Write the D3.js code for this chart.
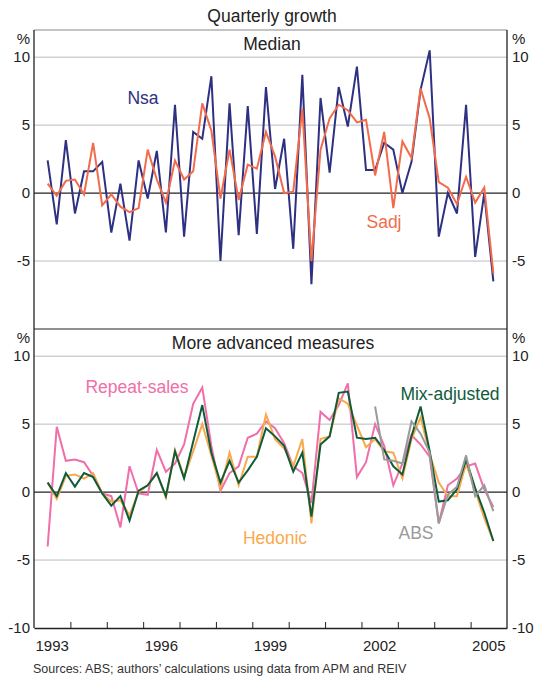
<!DOCTYPE html>
<html>
<head>
<meta charset="utf-8">
<script src="https://cdn.jsdelivr.net/npm/d3@7"></script>
<style>
  body { margin: 0; background: #fff; }
  svg text { font-family: "Liberation Sans", Arial, sans-serif; fill: #222; }
</style>
</head>
<body>
<div id="chart"></div>
<script>
// Quarterly house price growth, 1993Q2 - 2005Q3 (%)

// quarter labels (x categories)
const QUARTERS = [];
for (let y = 1993; y <= 2005; y++) {
  for (let q = 1; q <= 4; q++) {
    if (y === 1993 && q === 1) continue;
    if (y === 2005 && q === 4) continue;
    QUARTERS.push(y + "Q" + q);
  }
}

const nsa = [
  2.4, -2.3, 3.9, -1.5, 1.6, 1.6, 2.3, -2.9, 0.7, -3.5,
  2.4, -0.4, 3.1, -2.9, 6.5, -3.2, 4.5, 4.0, 8.6, -5.0,
  6.6, -3.1, 6.4, -3.0, 7.8, 0.3, 4.0, -4.1, 8.7, -6.7,
  7.0, 1.5, 7.8, 4.9, 9.3, 1.7, 1.7, 3.7, 3.2, 0.0,
  2.3, 7.6, 10.5, -3.2, 0.0, -1.5, 6.5, -4.7, 0.0, -6.5
];

const sadj = [
  0.7, -0.2, 0.9, 1.0, -0.1, 3.7, -0.9, -0.1, -1.0, -1.4,
  -1.1, 3.2, 1.0, -0.7, 2.4, 1.0, 1.6, 6.6, 4.6, -0.4,
  3.2, -0.5, 2.1, 1.8, 4.5, 2.7, 0.0, 0.1, 6.2, -5.0,
  3.2, 5.5, 6.5, 6.1, 5.2, 5.4, 1.3, 4.5, -1.1, 3.8,
  2.6, 7.7, 5.5, 0.8, 0.4, -0.8, 1.2, -0.7, 0.4, -5.9
];

const repeatSales = [
  -4.0, 4.8, 2.3, 2.4, 2.2, 1.2, -0.1, -0.3, -2.6, 1.9,
  -0.1, -0.2, 3.1, 1.5, 2.1, 3.5, 6.5, 7.7, 3.4, 0.1,
  1.4, 1.9, 4.0, 4.3, 5.2, 4.7, 3.6, 1.9, 1.4, -0.8,
  5.9, 5.3, 6.4, 8.0, 1.1, 2.2, 5.0, 3.4, 0.5, 2.1,
  4.2, 3.5, 2.6, -2.3, 0.5, 1.0, 1.9, 2.1, 0.2, -1.1
];

const mixAdjusted = [
  0.7, -0.3, 1.4, 0.4, 1.4, 1.1, -0.1, -1.0, -0.3, -2.1,
  0.1, 0.5, 1.4, -0.3, 3.0, 1.0, 3.7, 6.4, 2.9, 0.7,
  2.3, 0.7, 1.6, 2.6, 4.7, 4.1, 3.4, 1.5, 2.9, -1.8,
  3.5, 4.1, 7.3, 7.4, 4.0, 3.9, 4.0, 3.1, 1.9, 1.3,
  4.1, 6.3, 3.0, -0.7, -0.6, 0.2, 2.4, 0.3, -1.5, -3.6
];

const hedonic = [
  0.7, -0.5, 1.2, 1.3, 1.0, 1.4, -0.1, -0.7, -0.6, -1.7,
  0.0, 0.5, 1.4, -0.4, 3.1, 1.1, 3.0, 5.0, 2.7, 0.3,
  2.9, 0.5, 2.6, 2.6, 5.7, 3.9, 3.2, 1.9, 3.9, -2.3,
  3.9, 4.1, 6.9, 6.5, 4.9, 3.3, 3.9, 3.0, 2.9, 1.0,
  3.9, 5.5, 2.8, 0.7, -0.3, -0.3, 2.1, 0.1, -1.9, -3.6
];

// ABS series begins 2002Q2
const abs = [
  null, null, null, null, null, null, null, null, null, null,
  null, null, null, null, null, null, null, null, null, null,
  null, null, null, null, null, null, null, null, null, null,
  null, null, null, null, null, null, 6.3, 2.4, 2.3, 2.1,
  5.2, 4.3, 2.9, -2.3, -0.2, 0.4, 2.7, -0.3, 0.5, -1.4
];

const Y_TICKS_TOP = [10, 5, 0, -5];
const Y_TICKS_BOTTOM = [10, 5, 0, -5, -10];
const YEAR_LABELS = [1993, 1996, 1999, 2002, 2005];

const width = 539, height = 679;
const left = 34, right = 507;
const topPanel = { y0: 30, y1: 329 };
const botPanel = { y0: 329, y1: 628 };

const svg = d3.select("#chart").append("svg")
  .attr("width", width)
  .attr("height", height);

const x = d3.scaleLinear().domain([1993, 2006]).range([left, right]);
const xq = i => {
  const [yr, q] = QUARTERS[i].split("Q").map(Number);
  return x(yr + (q - 0.5) / 4);
};

const yTop = d3.scaleLinear().domain([-10, 12]).range([topPanel.y1, topPanel.y0]);
const yBot = d3.scaleLinear().domain([-10, 12]).range([botPanel.y1, botPanel.y0]);

// gridlines + tick labels
function drawGrid(y, ticks, panel) {
  const g = svg.append("g");
  ticks.forEach(t => {
    if (t !== 0 && t !== -10) {
      g.append("line")
        .attr("x1", left).attr("x2", right)
        .attr("y1", y(t)).attr("y2", y(t))
        .attr("stroke", "#b8bcc0").attr("stroke-width", 1);
    }
  });

  const yl = d3.axisLeft(y).tickValues(ticks).tickSize(0).tickPadding(4)
    .tickFormat(d => d);
  const yr = d3.axisRight(y).tickValues(ticks).tickSize(0).tickPadding(5)
    .tickFormat(d => d);

  const gl = svg.append("g").attr("transform", `translate(${left},0)`).call(yl);
  const gr = svg.append("g").attr("transform", `translate(${right},0)`).call(yr);
  [gl, gr].forEach(a => {
    a.select(".domain").remove();
    a.selectAll("text").attr("font-size", 15).attr("fill", "#222");
  });

  svg.append("text").attr("x", left - 4).attr("y", panel.y0 + 14)
    .attr("text-anchor", "end").attr("font-size", 15).text("%");
  svg.append("text").attr("x", right + 5).attr("y", panel.y0 + 14)
    .attr("text-anchor", "start").attr("font-size", 15).text("%");
}

drawGrid(yTop, Y_TICKS_TOP, topPanel);
drawGrid(yBot, Y_TICKS_BOTTOM, botPanel);

// zero lines
[yTop, yBot].forEach(y => {
  svg.append("line")
    .attr("x1", left).attr("x2", right)
    .attr("y1", y(0)).attr("y2", y(0))
    .attr("stroke", "#222").attr("stroke-width", 1.2);
});

// series
function drawLine(values, y, color) {
  const line = d3.line()
    .defined(d => d != null)
    .x((d, i) => xq(i))
    .y(d => y(d));
  svg.append("path")
    .datum(values)
    .attr("fill", "none")
    .attr("stroke", color)
    .attr("stroke-width", 2)
    .attr("stroke-linejoin", "miter")
    .attr("d", line);
}

drawLine(nsa, yTop, "#2e3082");
drawLine(sadj, yTop, "#f26b4b");

drawLine(repeatSales, yBot, "#f06ea9");
drawLine(hedonic, yBot, "#f9a94d");
drawLine(mixAdjusted, yBot, "#0f5c3a");
drawLine(abs, yBot, "#9a9a9a");

// frame
svg.append("line").attr("x1", left).attr("x2", right)
  .attr("y1", topPanel.y0).attr("y2", topPanel.y0)
  .attr("stroke", "#888").attr("stroke-width", 1);
svg.append("line").attr("x1", left).attr("x2", right)
  .attr("y1", topPanel.y1).attr("y2", topPanel.y1)
  .attr("stroke", "#222").attr("stroke-width", 1.2);
[left, right].forEach(xx => {
  svg.append("line").attr("x1", xx).attr("x2", xx)
    .attr("y1", topPanel.y0).attr("y2", botPanel.y1)
    .attr("stroke", "#222").attr("stroke-width", 1.3);
});

// x axis
const xAxis = d3.axisBottom(x)
  .tickValues(d3.range(1994, 2006))
  .tickSizeInner(-6).tickSizeOuter(0)
  .tickFormat("");
const gx = svg.append("g").attr("transform", `translate(0,${botPanel.y1})`).call(xAxis);
gx.select(".domain").attr("stroke", "#222").attr("stroke-width", 1.3);
gx.selectAll(".tick line").attr("stroke", "#222");

YEAR_LABELS.forEach(yr => {
  svg.append("text")
    .attr("x", x(yr + 0.5)).attr("y", 651)
    .attr("text-anchor", "middle").attr("font-size", 15)
    .text(yr);
});

// titles
svg.append("text").attr("x", 272).attr("y", 22)
  .attr("text-anchor", "middle").attr("font-size", 17.5).text("Quarterly growth");
svg.append("text").attr("x", 272).attr("y", 50)
  .attr("text-anchor", "middle").attr("font-size", 17.5).text("Median");
svg.append("text").attr("x", 273).attr("y", 349)
  .attr("text-anchor", "middle").attr("font-size", 17.5).text("More advanced measures");

// series labels
const labels = [
  { text: "Nsa", x: 143, y: 104, color: "#2e3082" },
  { text: "Sadj", x: 384, y: 228, color: "#f26b4b" },
  { text: "Repeat-sales", x: 137, y: 393, color: "#f06ea9" },
  { text: "Mix-adjusted", x: 450, y: 400, color: "#0f5c3a" },
  { text: "Hedonic", x: 275, y: 544, color: "#f9a94d" },
  { text: "ABS", x: 416, y: 539, color: "#9a9a9a" }
];
labels.forEach(l => {
  svg.append("text")
    .attr("x", l.x).attr("y", l.y)
    .attr("text-anchor", "middle").attr("font-size", 17.5)
    .style("fill", l.color)
    .text(l.text);
});

svg.append("text").attr("x", 33).attr("y", 673)
  .attr("font-size", 12.5).style("fill", "#333")
  .text("Sources: ABS; authors’ calculations using data from APM and REIV");
</script>
</body>
</html>
